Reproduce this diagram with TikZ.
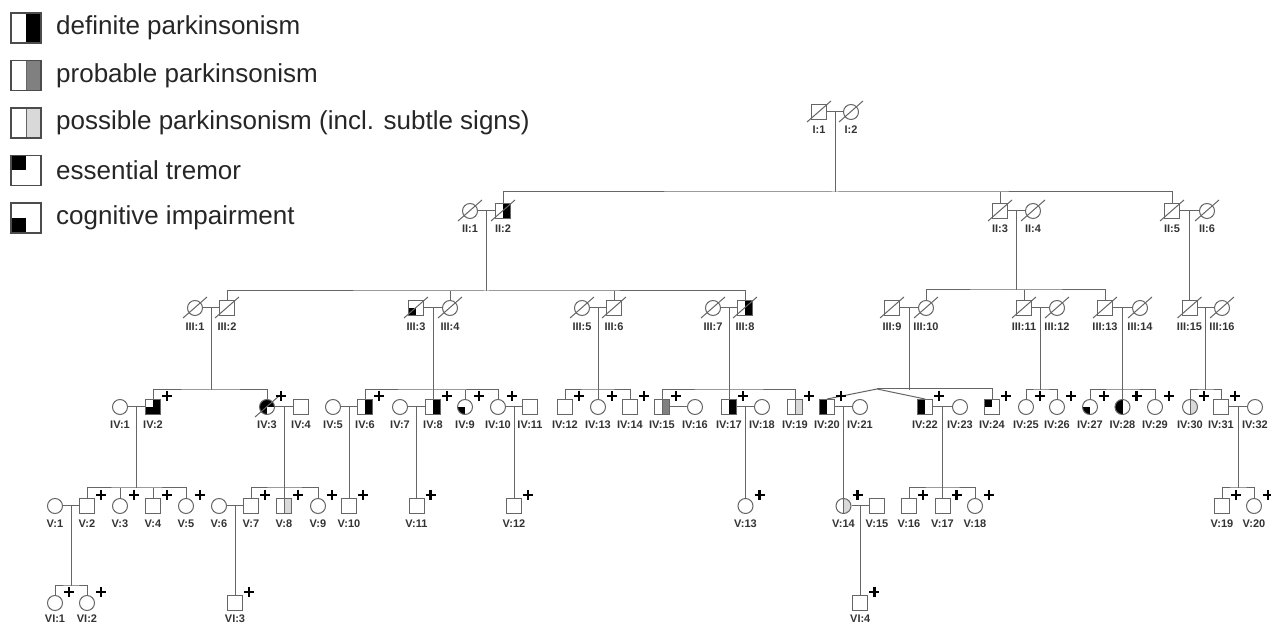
\documentclass[tikz,border=0pt]{standalone}
\usepackage{fontspec}
\setmainfont{Liberation Sans}
\usetikzlibrary{calc,positioning}
\newcommand{\plusmark}[1]{\draw[pm] ([shift={(9,-11)}]#1.center) -- ([shift={(19,-11)}]#1.center) ([shift={(14,-16)}]#1.center) -- ([shift={(14,-6)}]#1.center);}
\newcommand{\deadmark}[1]{\draw[ln] ([shift={(-12,10)}]#1.center) -- ([shift={(12,-11)}]#1.center);}
\begin{document}
\begin{tikzpicture}[x=0.5pt,y=-0.5pt,
  ln/.style={draw=black!60,line width=0.5pt},
  pm/.style={black,line width=1.4pt},
  mal/.style={rectangle,draw=black!60,line width=0.5pt,minimum size=7.5pt,inner sep=0pt},
  fem/.style={circle,draw=black!60,line width=0.5pt,minimum size=7.5pt,inner sep=0pt},
  nf/.style={},
  defR/.style={path picture={\fill[black] (path picture bounding box.north) rectangle (path picture bounding box.south east);}},
  defL/.style={path picture={\fill[black] (path picture bounding box.north west) rectangle (path picture bounding box.south);}},
  prob/.style={path picture={\fill[black!50] (path picture bounding box.north) rectangle (path picture bounding box.south east);
    \draw[black!60,line width=0.5pt] (path picture bounding box.north) -- (path picture bounding box.south);}},
  poss/.style={path picture={\fill[black!15] (path picture bounding box.north) rectangle (path picture bounding box.south east);
    \draw[black!60,line width=0.5pt] (path picture bounding box.north) -- (path picture bounding box.south);}},
  et/.style={path picture={\fill[black] (path picture bounding box.north west) rectangle (path picture bounding box.center);}},
  ci/.style={path picture={\fill[black] (path picture bounding box.west) rectangle (path picture bounding box.south);}},
  defci/.style={path picture={\fill[black] (path picture bounding box.north) rectangle (path picture bounding box.south east);
    \fill[black] (path picture bounding box.west) rectangle (path picture bounding box.south);}},
  ivthree/.style={path picture={\fill[black] (path picture bounding box.north west) rectangle (path picture bounding box.south);
    \fill[black] (path picture bounding box.north) rectangle (path picture bounding box.east);}},
  lbl/.style={font=\fontsize{5.5}{6}\selectfont\bfseries,text=black!80,inner sep=0pt},
  lg/.style={rectangle,draw=black!70,line width=0.8pt,minimum size=15pt,inner sep=0pt},
  lgt/.style={font=\fontsize{13}{15}\selectfont,text=black!85,inner sep=0pt}]
\useasboundingbox (0,0) rectangle (1271,625);

% legend
\foreach \k/\y/\f/\t in {1/28/defR/definite parkinsonism,2/75.5/prob/probable parkinsonism,3/123/poss/possible parkinsonism (incl. subtle signs),4/170.5/et/essential tremor,5/218/ci/cognitive impairment}
  {\node[lg,\f] (key\k) at (26,\y) {}; \node[lgt,right=7pt of key\k] (keyt\k) {\t};}

% generations
\foreach \i/\x/\s/\f in {1/819/mal/nf,2/851/fem/nf}
  {\node[\s,\f] (I\i) at (\x,112) {}; \node[lbl] (lI\i) at (\x,130) {I:\i};}
\foreach \i/\x/\s/\f in {1/470/fem/nf,2/503/mal/defR,3/1000/mal/nf,4/1033/fem/nf,5/1172/mal/nf,6/1207/fem/nf}
  {\node[\s,\f] (II\i) at (\x,211) {}; \node[lbl] (lII\i) at (\x,229) {II:\i};}
\foreach \i/\x/\s/\f in {1/195/fem/nf,2/227/mal/nf,3/416/mal/ci,4/450/fem/nf,5/582/fem/nf,6/614/mal/nf,7/713/fem/nf,8/745/mal/defR,
  9/892/mal/nf,10/926/fem/nf,11/1024/mal/nf,12/1057/fem/nf,13/1105/mal/nf,14/1140/fem/nf,15/1189.5/mal/nf,16/1222/fem/nf}
  {\node[\s,\f] (III\i) at (\x,308) {}; \node[lbl] (lIII\i) at (\x,327) {III:\i};}
\foreach \i/\x/\s/\f in {1/120/fem/nf,2/153/mal/defci,3/267/fem/ivthree,4/301/mal/nf,5/333/fem/nf,6/365/mal/defR,7/400/fem/nf,8/433/mal/defR,
  9/465/fem/ci,10/498/fem/nf,11/530/mal/nf,12/565/mal/nf,13/598/fem/nf,14/630/mal/nf,15/662/mal/prob,16/695/fem/nf,
  17/729/mal/defR,18/762/fem/nf,19/795/mal/poss,20/827/mal/defL,21/860/fem/nf,22/925/mal/defL,23/960/fem/nf,24/992/mal/et,
  25/1026/fem/nf,26/1057/fem/nf,27/1090/fem/ci,28/1122.5/fem/defL,29/1155/fem/nf,30/1190/fem/poss,31/1221/mal/nf,32/1255/fem/nf}
  {\node[\s,\f] (IV\i) at (\x,407) {}; \node[lbl] (lIV\i) at (\x,425) {IV:\i};}
\foreach \i/\x/\s/\f in {1/55/fem/nf,2/87/mal/nf,3/120/fem/nf,4/153/mal/nf,5/186/fem/nf,6/219/fem/nf,7/251/mal/nf,8/284/mal/poss,
  9/318/fem/nf,10/349/mal/nf,11/416.5/mal/nf,12/514/mal/nf,13/745.5/fem/nf,14/843.5/fem/poss,15/877/mal/nf,16/909/mal/nf,
  17/942.5/mal/nf,18/975/fem/nf,19/1222/mal/nf,20/1254/fem/nf}
  {\node[\s,\f] (V\i) at (\x,506) {}; \node[lbl] (lV\i) at (\x,524) {V:\i};}
\foreach \i/\x/\s/\f in {1/55/fem/nf,2/87/fem/nf,3/235/mal/nf,4/860.25/mal/nf}
  {\node[\s,\f] (VI\i) at (\x,603) {}; \node[lbl] (lVI\i) at (\x,618.5) {VI:\i};}

% I -> II
\draw[ln] (I1) -- coordinate (mI) (I2);
\draw[ln] (mI) -- ++(0,80) coordinate (sII);
\draw[ln] (II2.north) |- (sII) -| (II5.north);
\draw[ln] (II3.north) -- (II3.north |- sII);

% II -> III
\draw[ln] (II1) -- coordinate (mII1) (II2);
\draw[ln] (mII1) -- ++(0,80) coordinate (sIII1);
\draw[ln] (III2.north) |- (sIII1) -| (III8.north);
\foreach \c in {III4,III6} \draw[ln] (\c.north) -- (\c.north |- sIII1);
\draw[ln] (II3) -- coordinate (mII3) (II4);
\draw[ln] (mII3) -- ++(0,79) coordinate (sIII2);
\draw[ln] (III10.north) |- (sIII2) -| (III13.north);
\draw[ln] (III11.north) -- (III11.north |- sIII2);
\draw[ln] (II5) -- coordinate (mII5) (II6);
\draw[ln] (mII5) -- (III15.north);

% III -> IV
\foreach \a/\b in {III1/III2,III3/III4,III5/III6,III7/III8,III9/III10,III11/III12,III13/III14,III15/III16}
  {\draw[ln] (\a) -- coordinate (m\a) (\b); \draw[ln] (m\a) -- ++(0,82) coordinate (s\a);}
\draw[ln] (IV2.north) |- (sIII1) -| (IV3.north);
\draw[ln] (sIII3) -- (IV8.north);
\draw[ln] (IV6.north) |- (sIII3) -| (IV10.north);
\draw[ln] (IV9.north) -- (IV9.north |- sIII3);
\draw[ln] (sIII5) -- (IV13.north);
\draw[ln] (IV12.north) |- (sIII5) -| (IV14.north);
\draw[ln] (sIII7) -- (IV17.north);
\draw[ln] (IV15.north) |- (sIII7) -| (IV19.north);
\coordinate (tw) at (877,389);
\draw[ln] (IV20.north) -- (tw) -- (IV22.north);
\draw[ln] (tw) -| (IV24.north);
\draw[ln] (IV25.north) |- (sIII11) -| (IV26.north);
\draw[ln] (sIII13) -- (IV28.north);
\draw[ln] (IV27.north) |- (sIII13) -| (IV29.north);
\draw[ln] (IV30.north) |- (sIII15) -| (IV31.north);

% IV -> V
\foreach \a/\b in {IV1/IV2,IV3/IV4,IV5/IV6,IV7/IV8,IV10/IV11,IV15/IV16,IV17/IV18,IV20/IV21,IV22/IV23,IV31/IV32}
  {\draw[ln] (\a) -- coordinate (m\a) (\b);}
\draw[ln] (mIV1) -- ++(0,81) coordinate (sIV1);
\draw[ln] (V2.north) |- (sIV1) -| (V5.north);
\foreach \c in {V3,V4} \draw[ln] (\c.north) -- (\c.north |- sIV1);
\draw[ln] (mIV3) -- (V8.north);
\draw[ln] (V7.north) |- ($(mIV3)+(0,81)$) -| (V9.north);
\draw[ln] (mIV5) -- (V10.north);
\draw[ln] (mIV7) -- (V11.north);
\draw[ln] (mIV10) -- (V12.north);
\draw[ln] (mIV17) -- (V13.north);
\draw[ln] (mIV20) -- (V14.north);
\draw[ln] (mIV22) -- (V17.north);
\draw[ln] (V16.north) |- ($(mIV22)+(0,81)$) -| (V18.north);
\draw[ln] (mIV31) -- ++(0,81) coordinate (sIV31);
\draw[ln] (V19.north) |- (sIV31) -| (V20.north);

% V -> VI
\foreach \a/\b in {V1/V2,V6/V7,V14/V15}
  {\draw[ln] (\a) -- coordinate (m\a) (\b);}
\draw[ln] (mV1) -- ++(0,80) coordinate (sV1);
\draw[ln] (VI1.north) |- (sV1) -| (VI2.north);
\draw[ln] (mV6) -- (VI3.north);
\draw[ln] (mV14) -- (VI4.north);

% deceased and examined
\foreach \n in {I1,I2,II1,II2,II3,II4,II5,II6,IV3} {\deadmark{\n}}
\foreach \i in {1,...,16} {\deadmark{III\i}}
\foreach \n in {IV2,IV3,IV6,IV8,IV9,IV10,IV12,IV13,IV14,IV15,IV17,IV19,IV20,IV22,IV24,IV25,IV26,IV27,IV28,IV29,IV30,IV31,
  V2,V3,V4,V5,V7,V8,V9,V10,V11,V12,V13,V14,V16,V17,V18,V19,V20,VI1,VI2,VI3,VI4} {\plusmark{\n}}
\end{tikzpicture}
\end{document}
